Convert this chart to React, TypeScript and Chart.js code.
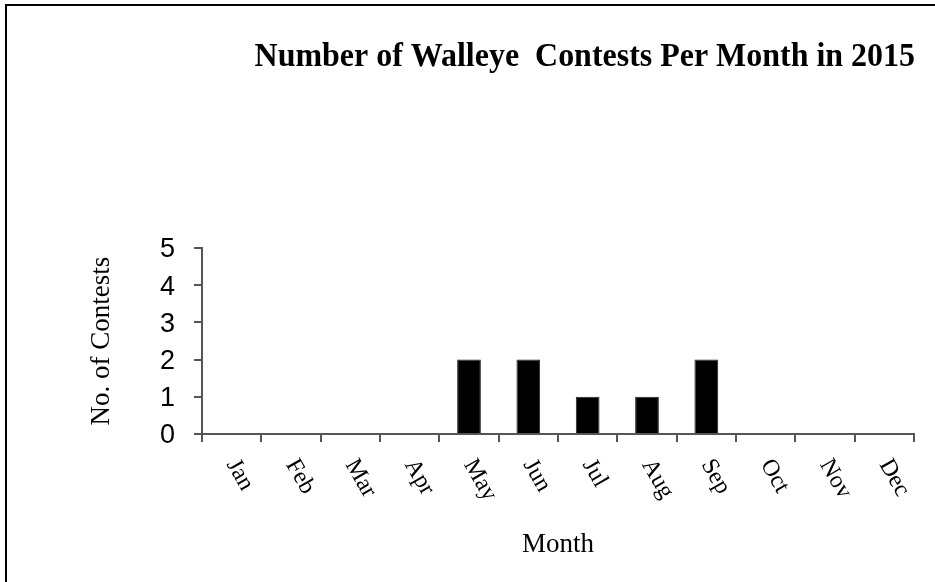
import React, { useEffect, useRef } from "react";
import { Chart, registerables } from "chart.js";

Chart.register(...registerables);

const chartTitle = "Number of Walleye  Contests Per Month in 2015";
const months = ["Jan", "Feb", "Mar", "Apr", "May", "Jun", "Jul", "Aug", "Sep", "Oct", "Nov", "Dec"];
const contests = [0, 0, 0, 0, 2, 2, 1, 1, 2, 0, 0, 0];
const yMin = 0;
const yMax = 5;
const yStep = 1;

const SERIF = '"Liberation Serif", "Times New Roman", serif';
const SANS = '"Liberation Sans", Arial, sans-serif';
const AXIS = "#555555";

const rotatedXLabels = {
  id: "rotatedXLabels",
  afterDraw(chart: any) {
    const { ctx } = chart;
    const x = chart.scales.x;
    ctx.save();
    ctx.font = `24px ${SERIF}`;
    ctx.fillStyle = "#000";
    ctx.textAlign = "left";
    ctx.textBaseline = "middle";
    const y0 = x.top + 27;
    months.forEach((m, i) => {
      const px = x.getPixelForValue(i);
      ctx.save();
      ctx.translate(px, y0);
      ctx.rotate(Math.PI / 3);
      ctx.fillText(m, 0, 0);
      ctx.restore();
    });
    ctx.restore();
  },
};

const condensedTitle = {
  id: "condensedTitle",
  afterDraw(chart: any) {
    const { ctx } = chart;
    ctx.save();
    ctx.font = `bold 34px ${SERIF}`;
    ctx.fillStyle = "#000";
    ctx.textAlign = "right";
    ctx.textBaseline = "alphabetic";
    ctx.translate(chart.chartArea.right + 1, 66);
    ctx.scale(0.94, 1);
    ctx.fillText(chartTitle, 0, 0);
    ctx.restore();
  },
};

export default function App() {
  const ref = useRef<HTMLCanvasElement | null>(null);

  useEffect(() => {
    if (!ref.current) return;
    const chart = new Chart(ref.current, {
      type: "bar",
      data: {
        labels: months,
        datasets: [
          {
            label: "No. of Contests",
            data: contests,
            backgroundColor: "#000",
            borderColor: "#222",
            borderWidth: 1,
            barPercentage: 0.4,
            categoryPercentage: 1,
          },
        ],
      },
      options: {
        animation: false,
        responsive: false,
        layout: { padding: { left: 80, right: 21, top: 248, bottom: 0 } },
        plugins: {
          legend: { display: false },
          tooltip: { enabled: false },
          title: { display: false },
        },
        scales: {
          x: {
            grid: {
              display: true,
              drawOnChartArea: false,
              drawTicks: true,
              tickLength: 8,
              offset: true,
              color: AXIS,
              lineWidth: 2,
            },
            border: { display: true, color: AXIS, width: 2 },
            ticks: { display: false },
            title: {
              display: true,
              text: "Month",
              color: "#000",
              font: { family: SERIF, size: 27, lineHeight: 1.2 },
              padding: { top: 0, bottom: 21 },
            },
            afterFit(scale: any) {
              scale.height = 148;
            },
          },
          y: {
            min: yMin,
            max: yMax,
            grid: {
              display: true,
              drawOnChartArea: false,
              drawTicks: true,
              tickLength: 8,
              color: AXIS,
              lineWidth: 2,
            },
            border: { display: true, color: AXIS, width: 2 },
            ticks: {
              stepSize: yStep,
              color: "#000",
              padding: 19,
              labelOffset: 2,
              font: { family: SANS, size: 27 },
            },
            title: {
              display: true,
              text: "No. of Contests",
              color: "#000",
              font: { family: SERIF, size: 27, lineHeight: 1.2 },
              padding: { top: 6, bottom: 0 },
            },
            afterFit(scale: any) {
              scale.width = 122;
            },
          },
        },
      },
      plugins: [rotatedXLabels, condensedTitle],
    });
    return () => chart.destroy();
  }, []);

  return (
    <div
      style={{
        position: "fixed",
        left: 0,
        top: 0,
        width: 935,
        height: 582,
        background: "#fff",
        overflow: "hidden",
      }}
    >
      <canvas ref={ref} width={935} height={582} style={{ display: "block" }} />
      <div
        style={{
          position: "absolute",
          left: 5,
          top: 4,
          right: 0,
          bottom: 0,
          borderTop: "2px solid #000",
          borderLeft: "2px solid #000",
          pointerEvents: "none",
        }}
      />
    </div>
  );
}
